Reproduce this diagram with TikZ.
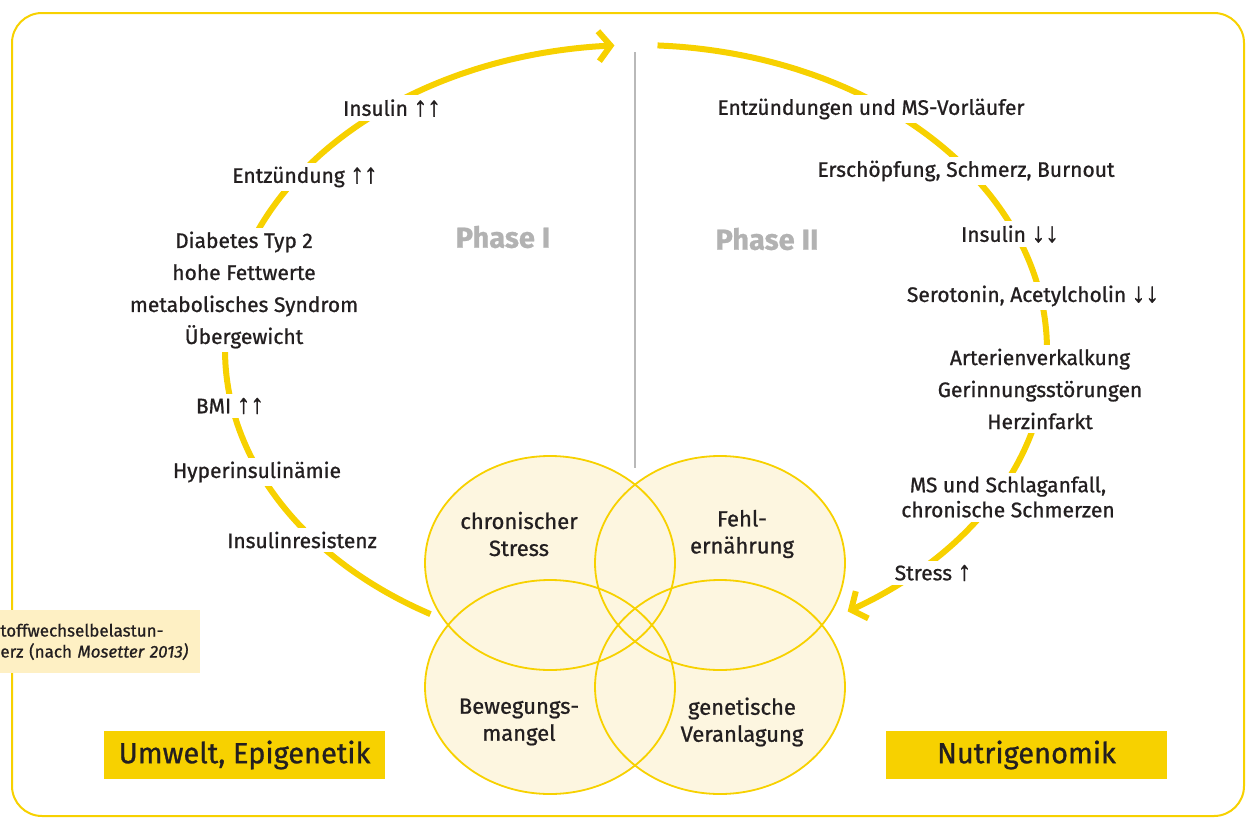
\documentclass[tikz,border=0pt]{standalone}
\usepackage{fontspec}
\setmainfont{Fira Sans}[FakeBold=0.9]
\newfontfamily\pfeilfont{Liberation Sans}[Scale=1.3, FakeBold=1.2]
\newcommand{\hoch}{{\pfeilfont ↑}}
\newcommand{\runter}{{\pfeilfont ↓}}
\usetikzlibrary{arrows.meta,positioning}

\definecolor{gelb}{RGB}{247,209,0}
\definecolor{creme}{RGB}{253,246,224}
\definecolor{hellgelb}{RGB}{254,240,196}
\definecolor{grautext}{RGB}{178,178,178}
\definecolor{graulinie}{RGB}{185,185,185}
\definecolor{schrift}{RGB}{35,31,32}

\begin{document}
\begin{tikzpicture}[x=0.5pt,y=-0.5pt]
    \tikzset{
    rahmen/.style={draw=gelb, line width=1pt, rounded corners=15pt},
    bogen/.style={gelb, line width=3pt},
    spitze/.style={-{Straight Barb[length=6pt,width=15pt]}},
    stufe/.style={fill=white, inner sep=2pt, align=center, text=schrift, font=\fontsize{10.5}{16}\selectfont},
    phase/.style={text=grautext, font=\bfseries\fontsize{14.5}{17}\selectfont},
    kreis/.style={draw=gelb, line width=0.9pt},
    faktor/.style={align=center, text=schrift, font=\fontsize{11}{13.5}\selectfont},
    feld/.style={fill=gelb, minimum width=140.5pt, minimum height=24pt, text=schrift, font=\fontsize{14.5}{17}\selectfont},
    }
    \useasboundingbox (0,0) rectangle (1247,819);
    \draw[rahmen] (12,13) rectangle (1244,816);

    % Trennlinie zwischen den Phasen
    \coordinate (oben) at (635,52);
    \coordinate (unten) at (635,468);
    \draw[graulinie, line width=1pt] (oben) -- (unten);

    % Kreislauf
    \draw[bogen, spitze] plot[domain=240:93, samples=60, smooth] ({636+411*cos(\x)}, {350-305*sin(\x)});
    \draw[bogen, spitze] plot[domain=87:-59, samples=60, smooth] ({636+411*cos(\x)}, {350-305*sin(\x)});

    % Phase I
    \node[stufe] (ins1) at (392,108) {Insulin \hoch\hoch};
    \node[stufe] (entz1) at (305,177) {Entzündung \hoch\hoch};
    \node[stufe] (diab) at (244,290) {Diabetes Typ 2\\hohe Fettwerte\\metabolisches Syndrom\\Übergewicht};
    \node[stufe] (bmi) at (230,406) {BMI \hoch\hoch};
    \node[stufe] (hyper) at (257,472) {Hyperinsulinämie};
    \node[stufe] (resist) at (302,540) {Insulinresistenz};

    % Phase II
    \node[stufe] (entz2) at (871,109) {Entzündungen und MS-Vorläufer};
    \node[stufe] (ersch) at (966,171) {Erschöpfung, Schmerz, Burnout};
    \node[stufe] (ins2) at (1010,234) {Insulin \runter\runter};
    \node[stufe] (sero) at (1033,296) {Serotonin, Acetylcholin \runter\runter};
    \node[stufe] (arter) at (1040,389) {Arterienverkalkung\\Gerinnungsstörungen\\Herzinfarkt};
    \node[stufe, font=\fontsize{10.5}{12.5}\selectfont] (schlag) at (1008,497) {MS und Schlaganfall,\\chronische Schmerzen};
    \node[stufe] (stress) at (933,573) {Stress \hoch};

    \node[phase] (ph1) at (503,237) {Phase I};
    \node[phase] (ph2) at (767,239) {Phase II};

    % Ursachen
    \foreach \mx/\my in {550/563, 720/563, 550/687, 720/687}
        \fill[creme] (\mx,\my) ellipse [x radius=62.5pt, y radius=53.5pt];
    \foreach \mx/\my in {550/563, 720/563, 550/687, 720/687}
        \draw[kreis] (\mx,\my) ellipse [x radius=62.5pt, y radius=53.5pt];

    \node[faktor] (chron) at (519,534) {chronischer\\Stress};
    \node[faktor] (fehl) at (742,534) {Fehl-\\ernährung};
    \node[faktor] (beweg) at (519,722) {Bewegungs-\\mangel};
    \node[faktor] (genet) at (742,722) {genetische\\Veranlagung};

    \node[feld] (umwelt) at (244.5,755) {Umwelt, Epigenetik};
    \node[feld] (nutri) at (1026.5,755) {Nutrigenomik};

    \node[fill=hellgelb, anchor=north west, text width=100pt, inner xsep=0pt, minimum height=31.5pt, align=left, text=schrift, font=\fontsize{8.5}{10.5}\selectfont] (quelle) at (0,610) {toffwechselbelastun-\\erz (nach \textit{Mosetter 2013)}};
\end{tikzpicture}
\end{document}
